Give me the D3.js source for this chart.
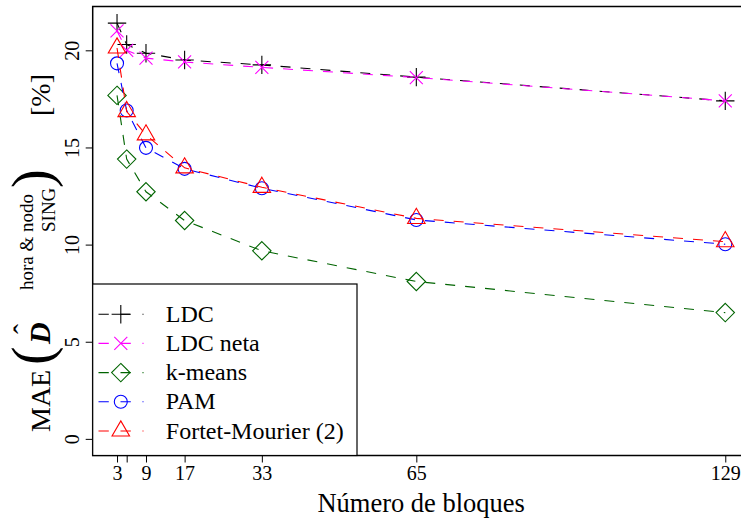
<!DOCTYPE html>
<html>
<head>
<meta charset="utf-8">
<script src="https://cdn.jsdelivr.net/npm/d3@7/dist/d3.min.js"></script>
<style>
  body { margin: 0; background: #fff; }
  svg { display: block; }
  text { font-family: "Liberation Serif", "Times New Roman", serif; fill: #000; }
</style>
</head>
<body>
<svg id="chart" width="741" height="522"></svg>
<script>
// Number of blocks on the x axis
const blocks = [3, 5, 9, 17, 33, 65, 129];
const xTickValues = [3, 5, 9, 17, 33, 65, 129];
const xTickLabels = ["3", "", "9", "17", "33", "65", "129"];
const yTickValues = [0, 5, 10, 15, 20];
const yTickLabels = ["0", "5", "10", "15", "20"];

// MAE [%] per method
const ldc      = [21.4, 20.3, 19.85, 19.5, 19.25, 18.62, 17.4];
const ldcNeta  = [21.0, 20.0, 19.6, 19.4, 19.12, 18.6, 17.4];
const kmeans   = [17.68, 14.4, 12.72, 11.24, 9.68, 8.1, 6.5];
const pam      = [19.33, 16.9, 14.98, 13.9, 12.9, 11.27, 10.02];
const fortet   = [20.12, 16.85, 15.65, 13.95, 12.95, 11.35, 10.15];

const seriesNames  = ["LDC", "LDC neta", "k-means", "PAM", "Fortet-Mourier (2)"];
const seriesValues = [ldc, ldcNeta, kmeans, pam, fortet];
const seriesColors = ["#000000", "#ff00ff", "#006400", "#0000ff", "#ff0000"];
const seriesShapes = ["plus", "cross", "diamond", "circle", "triangle"];

const FONT = "Liberation Serif, Times New Roman, serif";
const svg = d3.select("#chart");

const plot = { left: 92.7, right: 749.6, top: 6.5, bottom: 455.5 };

// R-style 4% padding around the data range
const x = d3.scaleLinear().domain([-2.04, 134.04]).range([plot.left, plot.right]);
const y = d3.scaleLinear().domain([-0.856, 22.256]).range([plot.bottom, plot.top]);

const R = 6.5; // base symbol radius
function symbolPath(shape) {
  const p = d3.path();
  if (shape === "plus") {
    const a = R * Math.SQRT2;
    p.moveTo(-a, 0); p.lineTo(a, 0); p.moveTo(0, -a); p.lineTo(0, a);
  } else if (shape === "cross") {
    p.moveTo(-R, -R); p.lineTo(R, R); p.moveTo(-R, R); p.lineTo(R, -R);
  } else if (shape === "diamond") {
    const a = R * Math.SQRT2;
    p.moveTo(0, -a); p.lineTo(a, 0); p.lineTo(0, a); p.lineTo(-a, 0); p.closePath();
  } else if (shape === "circle") {
    p.arc(0, 0, R, 0, 2 * Math.PI); p.closePath();
  } else if (shape === "triangle") {
    const r = 1.5551 * R, h = 1.3468 * R, yc = 0.7776 * R;
    p.moveTo(0, -r); p.lineTo(h, yc); p.lineTo(-h, yc); p.closePath();
  }
  return p.toString();
}

const dash = "10,10";

// Series lines and symbols
const line = d3.line().x((d, i) => x(blocks[i])).y(d => y(d));
seriesValues.forEach((vals, k) => {
  svg.append("path")
    .attr("d", line(vals))
    .attr("fill", "none")
    .attr("stroke", seriesColors[k])
    .attr("stroke-width", 1.1)
    .attr("stroke-dasharray", dash);
  svg.append("g").selectAll("path")
    .data(vals)
    .join("path")
    .attr("transform", (d, i) => `translate(${x(blocks[i])},${y(d)})`)
    .attr("d", symbolPath(seriesShapes[k]))
    .attr("fill", "none")
    .attr("stroke", seriesColors[k])
    .attr("stroke-width", 1.1);
});

// Frame
svg.append("rect")
  .attr("x", plot.left).attr("y", plot.top)
  .attr("width", plot.right - plot.left).attr("height", plot.bottom - plot.top)
  .attr("fill", "none").attr("stroke", "#000").attr("stroke-width", 1.5);

// Axes
const xAxis = d3.axisBottom(x).tickValues(xTickValues)
  .tickFormat((d, i) => xTickLabels[i]).tickSize(7).tickPadding(3);
const gx = svg.append("g").attr("transform", `translate(0,${plot.bottom})`).call(xAxis);
gx.attr("font-family", FONT);
gx.select(".domain").remove();
gx.selectAll("line").attr("stroke", "#000").attr("stroke-width", 1);
gx.selectAll("text").attr("font-family", FONT).style("font-size", "20px").attr("dy", null).attr("y", 24);

const yAxis = d3.axisLeft(y).tickValues(yTickValues)
  .tickFormat((d, i) => yTickLabels[i]).tickSize(7);
const gy = svg.append("g").attr("transform", `translate(${plot.left},0)`).call(yAxis);
gy.attr("font-family", FONT);
gy.select(".domain").remove();
gy.selectAll("line").attr("stroke", "#000").attr("stroke-width", 1);
gy.selectAll("text")
  .attr("font-family", FONT).style("font-size", "20px")
  .attr("x", null).attr("dy", null)
  .attr("text-anchor", "middle")
  .attr("transform", "translate(-13.5,0) rotate(-90)");

// Axis titles
svg.append("text")
  .attr("x", (plot.left + plot.right) / 2).attr("y", 512)
  .attr("text-anchor", "middle").attr("font-family", FONT).style("font-size", "26.5px")
  .text("Número de bloques");

const yl = svg.append("g").attr("transform", "translate(50,432) rotate(-90)").attr("font-family", FONT);
yl.append("text").attr("x", 0).attr("y", 0).style("font-size", "28px").text("MAE");
yl.append("text").attr("x", 67).attr("y", 0.8).style("font-size", "56px").text("(");
yl.append("text").attr("x", 88).attr("y", 0).style("font-size", "30px")
  .style("font-weight", "bold").style("font-style", "italic").text("D");
yl.append("text").attr("x", 103).attr("y", -16).attr("text-anchor", "middle").style("font-size", "30px").text("ˆ");
yl.append("text").attr("x", 142).attr("y", -17).style("font-size", "19px").text("hora & nodo");
yl.append("text").attr("x", 200).attr("y", 5).style("font-size", "19px").text("SING");
yl.append("text").attr("x", 244).attr("y", 0.8).style("font-size", "56px").text(")");
yl.append("text").attr("x", 316).attr("y", 0).style("font-size", "28px").text("[%]");

// Legend
const leg = { x0: 92.7, y0: 284, x1: 357, y1: plot.bottom };
svg.append("rect")
  .attr("x", leg.x0).attr("y", leg.y0)
  .attr("width", leg.x1 - leg.x0).attr("height", leg.y1 - leg.y0)
  .attr("fill", "#fff").attr("stroke", "#000").attr("stroke-width", 1.2);

seriesNames.forEach((name, k) => {
  const base = 321.7 + k * 29.2;
  const cy = base - 7.5;
  const g = svg.append("g");
  g.append("line")
    .attr("x1", 98.5).attr("x2", 143.5).attr("y1", cy).attr("y2", cy)
    .attr("stroke", seriesColors[k]).attr("stroke-width", 1.1)
    .attr("stroke-dasharray", "10.3,11.7");
  g.append("path")
    .attr("transform", `translate(120.8,${cy})`)
    .attr("d", symbolPath(seriesShapes[k]))
    .attr("fill", "none").attr("stroke", seriesColors[k]).attr("stroke-width", 1.1);
  g.append("text").attr("x", 165.8).attr("y", base)
    .attr("font-family", FONT).style("font-size", "24px").text(name);
});
</script>
</body>
</html>
